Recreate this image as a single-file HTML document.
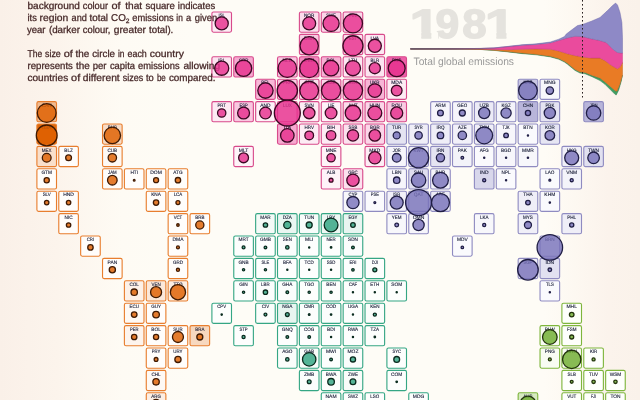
<!DOCTYPE html>
<html lang="en">
<head>
<meta charset="utf-8">
<title>CO2 emissions tile map</title>
<style>
html,body{margin:0;padding:0;}
body{width:640px;height:400px;overflow:hidden;background:#fefcf6;font-family:"Liberation Sans",sans-serif;}
svg{display:block;text-rendering:geometricPrecision;}
.intro{font-size:9.9px;fill:#472929;stroke:#472929;stroke-width:0.28;}
.lab{font-size:4.85px;fill:#1a1f38;stroke:#1a1f38;stroke-width:0.12;text-anchor:middle;}
.tiles rect{stroke-width:1.12;}
.circ circle{stroke-width:1.3;fill-opacity:0.82;}
</style>
</head>
<body>
<svg width="640" height="400" viewBox="0 0 640 400" font-family="Liberation Sans, sans-serif">
<defs>
<linearGradient id="bg" x1="0" y1="0" x2="1" y2="0">
<stop offset="0" stop-color="#faf0e8"/>
<stop offset="0.09" stop-color="#fcf4ec"/>
<stop offset="0.19" stop-color="#fefbf4"/>
<stop offset="0.3" stop-color="#fefcf6"/>
<stop offset="0.85" stop-color="#fefcf6"/>
<stop offset="0.9" stop-color="#fdf8f1"/>
<stop offset="0.95" stop-color="#fbf3ec"/>
<stop offset="1" stop-color="#faf2ea"/>
</linearGradient>
<clipPath id="c1"><path d="M400,0 H520 V32.2 H506.4 V45 H496.4 V32.2 H487 V45 H438.3 V32.2 H431.3 V45 H421.3 V32.2 H400 Z"/></clipPath>
<linearGradient id="lg" gradientUnits="userSpaceOnUse" x1="410" y1="0" x2="500" y2="0">
<stop offset="0" stop-color="#5e585a" stop-opacity="1"/>
<stop offset="0.5" stop-color="#6a5560" stop-opacity="0.9"/>
<stop offset="1" stop-color="#8a5070" stop-opacity="0"/>
</linearGradient>
</defs>
<rect width="640" height="400" fill="url(#bg)"/>
<g>
<text y="38.2" font-size="41.0" font-weight="bold" fill="#e5e3de" stroke="#e5e3de" stroke-width="1.4" stroke-linejoin="round" clip-path="url(#c1)"><tspan x="409.80" textLength="29.86" lengthAdjust="spacingAndGlyphs">1</tspan><tspan x="435.51" textLength="23.71" lengthAdjust="spacingAndGlyphs">9</tspan><tspan x="462.31" textLength="24.39" lengthAdjust="spacingAndGlyphs">8</tspan><tspan x="484.90" textLength="29.86" lengthAdjust="spacingAndGlyphs">1</tspan></text>
<text x="413.5" y="64.7" font-size="10.8" fill="#999999" textLength="100.5" lengthAdjust="spacingAndGlyphs">Total global emissions</text>
<g class="stream">
<path d="M410.5,49 L440,49 L460,49.05 L480,49.35 L494,50.2 L508,51.6 L522,53.07 L536,54.25 L550.3,56.2 L558.8,58.5 L564.4,61.25 L567.5,63.35 L575,69.4 L580,71.9 L585,72.5 L592.5,75.6 L600,78.1 L605,81.9 L610,86.25 L615,90.6 L616.9,91.25 L620,83.75 L622.5,75 L622.5,75 L621.25,81.25 L618.75,90 L616.25,95 L615,94.35 L610,89.35 L605,84.35 L600,80.6 L592.5,76.9 L585,73.8 L580,73.1 L575,70.4 L567.5,64.3 L564.4,62.12 L558.8,59.3 L550.3,56.9 L536,54.84 L522,53.63 L508,51.9 L494,50.4 L480,49.45 L460,49.1 L440,49 L410.5,49Z" fill="#3f9e63" stroke="#2f7d4c" stroke-width="0.45" stroke-linejoin="round"/>
<path d="M410.5,48.9 L440,48.9 L460,48.9 L480,49 L494,49.4 L508,49.7 L522,49.2 L536,48.9 L550.3,49.2 L558.8,51 L567.5,53.75 L575,55.6 L582.5,56.9 L591.25,58.1 L600,58.1 L605,60.6 L610,64.4 L615,67.5 L617.5,68.75 L620,66.9 L622.5,62.5 L622.5,75 L620,83.75 L616.9,91.25 L615,90.6 L610,86.25 L605,81.9 L600,78.1 L592.5,75.6 L585,72.5 L580,71.9 L575,69.4 L567.5,63.35 L564.4,61.25 L558.8,58.5 L550.3,56.2 L536,54.25 L522,53.07 L508,51.6 L494,50.2 L480,49.35 L460,49.05 L440,49 L410.5,49Z" fill="#e97b25" stroke="#bf6018" stroke-width="0.45" stroke-linejoin="round"/>
<path d="M410.5,48.8 L440,48.8 L460,48.78 L480,48.55 L494,48 L508,46.6 L522,45.23 L536,44.45 L550,42.9 L560,40.1 L567.5,37.85 L575,36.25 L582.5,36.6 L591.25,38.75 L600,40.6 L606.25,42.5 L611.25,47.5 L613.75,50 L617.5,52.5 L622.5,53.1 L622.5,62.5 L620,66.9 L617.5,68.75 L615,67.5 L610,64.4 L605,60.6 L600,58.1 L591.25,58.1 L582.5,56.9 L575,55.6 L567.5,53.75 L558.8,51 L550.3,49.2 L536,48.9 L522,49.2 L508,49.7 L494,49.4 L480,49 L460,48.9 L440,48.9 L410.5,48.9Z" fill="#ea4b9d" stroke="#c23782" stroke-width="0.45" stroke-linejoin="round"/>
<path d="M410.5,48.8 L440,48.8 L460,48.75 L480,48.5 L494,47.9 L508,46.4 L522,44.77 L536,43.86 L550.3,42 L558.8,39.2 L564.4,36.58 L566.25,34.05 L572.5,29.3 L577.5,25.6 L582.5,24.4 L591.25,21.25 L600,17.5 L607.5,10.6 L612.5,5.6 L615.6,3.1 L617.5,5 L620,12.5 L621.9,22.5 L622.5,37.5 L622.5,53.1 L617.5,52.5 L613.75,50 L611.25,47.5 L606.25,42.5 L600,40.6 L591.25,38.75 L582.5,36.6 L575,36.25 L567.5,37.85 L560,40.1 L550,42.9 L536,44.45 L522,45.23 L508,46.6 L494,48 L480,48.55 L460,48.78 L440,48.8 L410.5,48.8Z" fill="#8e89c6" stroke="#6c67a8" stroke-width="0.45" stroke-linejoin="round"/>
</g>
<path d="M410.3,48.9 L460,48.8 L500,48.2" stroke="url(#lg)" stroke-width="1.2" fill="none"/>
<line x1="582.5" y1="0" x2="582.5" y2="97.5" stroke="#2a2020" stroke-width="1" stroke-dasharray="1.6 2.4"/>
<g class="tiles">
<rect x="36.9" y="101.6" width="19.6" height="20.2" rx="1.6" fill="#f1ba8f" stroke="#e87e2e"/>
<rect x="36.9" y="124" width="19.6" height="20.2" rx="1.6" fill="#e0690c" stroke="#e87e2e"/>
<rect x="36.9" y="146.4" width="19.6" height="20.2" rx="1.6" fill="#f9dfcb" stroke="#e87e2e"/>
<rect x="58.78" y="146.4" width="19.6" height="20.2" rx="1.6" fill="#fffdfb" stroke="#e87e2e"/>
<rect x="102.53" y="124" width="19.6" height="20.2" rx="1.6" fill="#f8dcc6" stroke="#e87e2e"/>
<rect x="102.53" y="146.4" width="19.6" height="20.2" rx="1.6" fill="#fef9f4" stroke="#e87e2e"/>
<rect x="36.9" y="168.8" width="19.6" height="20.2" rx="1.6" fill="#fffdfb" stroke="#e87e2e"/>
<rect x="102.53" y="168.8" width="19.6" height="20.2" rx="1.6" fill="#fffdfb" stroke="#e87e2e"/>
<rect x="124.4" y="168.8" width="19.6" height="20.2" rx="1.6" fill="#fffdfb" stroke="#e87e2e"/>
<rect x="146.27" y="168.8" width="19.6" height="20.2" rx="1.6" fill="#fffdfb" stroke="#e87e2e"/>
<rect x="168.15" y="168.8" width="19.6" height="20.2" rx="1.6" fill="#fffdfb" stroke="#e87e2e"/>
<rect x="36.9" y="191.2" width="19.6" height="20.2" rx="1.6" fill="#fffdfb" stroke="#e87e2e"/>
<rect x="58.78" y="191.2" width="19.6" height="20.2" rx="1.6" fill="#fffdfb" stroke="#e87e2e"/>
<rect x="146.27" y="191.2" width="19.6" height="20.2" rx="1.6" fill="#fffdfb" stroke="#e87e2e"/>
<rect x="168.15" y="191.2" width="19.6" height="20.2" rx="1.6" fill="#fffdfb" stroke="#e87e2e"/>
<rect x="58.78" y="213.6" width="19.6" height="20.2" rx="1.6" fill="#fffdfb" stroke="#e87e2e"/>
<rect x="168.15" y="213.6" width="19.6" height="20.2" rx="1.6" fill="#fffdfb" stroke="#e87e2e"/>
<rect x="190.02" y="213.6" width="19.6" height="20.2" rx="1.6" fill="#fffdfb" stroke="#e87e2e"/>
<rect x="80.65" y="236" width="19.6" height="20.2" rx="1.6" fill="#fffdfb" stroke="#e87e2e"/>
<rect x="168.15" y="236" width="19.6" height="20.2" rx="1.6" fill="#fffdfb" stroke="#e87e2e"/>
<rect x="102.53" y="258.4" width="19.6" height="20.2" rx="1.6" fill="#fffdfb" stroke="#e87e2e"/>
<rect x="168.15" y="258.4" width="19.6" height="20.2" rx="1.6" fill="#fffdfb" stroke="#e87e2e"/>
<rect x="124.4" y="280.8" width="19.6" height="20.2" rx="1.6" fill="#fdf1e8" stroke="#e87e2e"/>
<rect x="146.27" y="280.8" width="19.6" height="20.2" rx="1.6" fill="#fbe8da" stroke="#e87e2e"/>
<rect x="168.15" y="280.8" width="19.6" height="20.2" rx="1.6" fill="#fceee3" stroke="#e87e2e"/>
<rect x="124.4" y="303.2" width="19.6" height="20.2" rx="1.6" fill="#fef9f4" stroke="#e87e2e"/>
<rect x="146.27" y="303.2" width="19.6" height="20.2" rx="1.6" fill="#fffdfb" stroke="#e87e2e"/>
<rect x="124.4" y="325.6" width="19.6" height="20.2" rx="1.6" fill="#fdf4ed" stroke="#e87e2e"/>
<rect x="146.27" y="325.6" width="19.6" height="20.2" rx="1.6" fill="#fffdfb" stroke="#e87e2e"/>
<rect x="168.15" y="325.6" width="19.6" height="20.2" rx="1.6" fill="#fffdfb" stroke="#e87e2e"/>
<rect x="190.02" y="325.6" width="19.6" height="20.2" rx="1.6" fill="#f7d8bf" stroke="#e87e2e"/>
<rect x="146.27" y="348" width="19.6" height="20.2" rx="1.6" fill="#fffdfb" stroke="#e87e2e"/>
<rect x="168.15" y="348" width="19.6" height="20.2" rx="1.6" fill="#fffdfb" stroke="#e87e2e"/>
<rect x="146.27" y="370.4" width="19.6" height="20.2" rx="1.6" fill="#fef9f4" stroke="#e87e2e"/>
<rect x="146.27" y="392.8" width="19.6" height="20.2" rx="1.6" fill="#fceee3" stroke="#e87e2e"/>
<rect x="211.9" y="12" width="19.6" height="20.2" rx="1.6" fill="#fdecf4" stroke="#d84a8b"/>
<rect x="299.4" y="12" width="19.6" height="20.2" rx="1.6" fill="#fcddec" stroke="#d84a8b"/>
<rect x="321.27" y="12" width="19.6" height="20.2" rx="1.6" fill="#fbd5e8" stroke="#d84a8b"/>
<rect x="343.15" y="12" width="19.6" height="20.2" rx="1.6" fill="#fbd8ea" stroke="#d84a8b"/>
<rect x="299.4" y="34.4" width="19.6" height="20.2" rx="1.6" fill="#facbe2" stroke="#d84a8b"/>
<rect x="343.15" y="34.4" width="19.6" height="20.2" rx="1.6" fill="#fce1ee" stroke="#d84a8b"/>
<rect x="365.02" y="34.4" width="19.6" height="20.2" rx="1.6" fill="#fde7f2" stroke="#d84a8b"/>
<rect x="211.9" y="56.8" width="19.6" height="20.2" rx="1.6" fill="#fce4f0" stroke="#d84a8b"/>
<rect x="233.77" y="56.8" width="19.6" height="20.2" rx="1.6" fill="#f6a9d0" stroke="#d84a8b"/>
<rect x="277.52" y="56.8" width="19.6" height="20.2" rx="1.6" fill="#f9c7e0" stroke="#d84a8b"/>
<rect x="299.4" y="56.8" width="19.6" height="20.2" rx="1.6" fill="#f38bc0" stroke="#d84a8b"/>
<rect x="321.27" y="56.8" width="19.6" height="20.2" rx="1.6" fill="#f7b0d4" stroke="#d84a8b"/>
<rect x="343.15" y="56.8" width="19.6" height="20.2" rx="1.6" fill="#fde7f2" stroke="#d84a8b"/>
<rect x="365.02" y="56.8" width="19.6" height="20.2" rx="1.6" fill="#fce4f0" stroke="#d84a8b"/>
<rect x="386.9" y="56.8" width="19.6" height="20.2" rx="1.6" fill="#ee5fa8" stroke="#d84a8b"/>
<rect x="255.65" y="79.2" width="19.6" height="20.2" rx="1.6" fill="#f8b8d8" stroke="#d84a8b"/>
<rect x="277.52" y="79.2" width="19.6" height="20.2" rx="1.6" fill="#facee4" stroke="#d84a8b"/>
<rect x="299.4" y="79.2" width="19.6" height="20.2" rx="1.6" fill="#fce1ee" stroke="#d84a8b"/>
<rect x="321.27" y="79.2" width="19.6" height="20.2" rx="1.6" fill="#fbd5e8" stroke="#d84a8b"/>
<rect x="343.15" y="79.2" width="19.6" height="20.2" rx="1.6" fill="#fcddec" stroke="#d84a8b"/>
<rect x="365.02" y="79.2" width="19.6" height="20.2" rx="1.6" fill="#f7b5d6" stroke="#d84a8b"/>
<rect x="386.9" y="79.2" width="19.6" height="20.2" rx="1.6" fill="#fdecf4" stroke="#d84a8b"/>
<rect x="211.9" y="101.6" width="19.6" height="20.2" rx="1.6" fill="#fdeaf3" stroke="#d84a8b"/>
<rect x="233.77" y="101.6" width="19.6" height="20.2" rx="1.6" fill="#f9c7e0" stroke="#d84a8b"/>
<rect x="255.65" y="101.6" width="19.6" height="20.2" rx="1.6" fill="#fef3f8" stroke="#d84a8b"/>
<rect x="277.52" y="101.6" width="19.6" height="20.2" rx="1.6" fill="#fdecf4" stroke="#d84a8b"/>
<rect x="299.4" y="101.6" width="19.6" height="20.2" rx="1.6" fill="#fdecf4" stroke="#d84a8b"/>
<rect x="321.27" y="101.6" width="19.6" height="20.2" rx="1.6" fill="#fef3f8" stroke="#d84a8b"/>
<rect x="343.15" y="101.6" width="19.6" height="20.2" rx="1.6" fill="#fcddec" stroke="#d84a8b"/>
<rect x="365.02" y="101.6" width="19.6" height="20.2" rx="1.6" fill="#fbd5e8" stroke="#d84a8b"/>
<rect x="386.9" y="101.6" width="19.6" height="20.2" rx="1.6" fill="#facbe2" stroke="#d84a8b"/>
<rect x="277.52" y="124" width="19.6" height="20.2" rx="1.6" fill="#f6a9d0" stroke="#d84a8b"/>
<rect x="299.4" y="124" width="19.6" height="20.2" rx="1.6" fill="#fdecf4" stroke="#d84a8b"/>
<rect x="321.27" y="124" width="19.6" height="20.2" rx="1.6" fill="#fdecf4" stroke="#d84a8b"/>
<rect x="343.15" y="124" width="19.6" height="20.2" rx="1.6" fill="#fce1ee" stroke="#d84a8b"/>
<rect x="365.02" y="124" width="19.6" height="20.2" rx="1.6" fill="#fbd5e8" stroke="#d84a8b"/>
<rect x="321.27" y="146.4" width="19.6" height="20.2" rx="1.6" fill="#fef3f8" stroke="#d84a8b"/>
<rect x="365.02" y="146.4" width="19.6" height="20.2" rx="1.6" fill="#fdecf4" stroke="#d84a8b"/>
<rect x="233.77" y="146.4" width="19.6" height="20.2" rx="1.6" fill="#fef3f8" stroke="#d84a8b"/>
<rect x="321.27" y="168.8" width="19.6" height="20.2" rx="1.6" fill="#fef3f8" stroke="#d84a8b"/>
<rect x="343.15" y="168.8" width="19.6" height="20.2" rx="1.6" fill="#fce1ee" stroke="#d84a8b"/>
<rect x="430.65" y="101.6" width="19.6" height="20.2" rx="1.6" fill="#f6f5fb" stroke="#8f8bc1"/>
<rect x="452.52" y="101.6" width="19.6" height="20.2" rx="1.6" fill="#f6f5fb" stroke="#8f8bc1"/>
<rect x="474.4" y="101.6" width="19.6" height="20.2" rx="1.6" fill="#ecebf6" stroke="#8f8bc1"/>
<rect x="496.27" y="101.6" width="19.6" height="20.2" rx="1.6" fill="#f4f4fa" stroke="#8f8bc1"/>
<rect x="518.15" y="101.6" width="19.6" height="20.2" rx="1.6" fill="#b8b5da" stroke="#8f8bc1"/>
<rect x="540.03" y="101.6" width="19.6" height="20.2" rx="1.6" fill="#e5e4f2" stroke="#8f8bc1"/>
<rect x="583.78" y="101.6" width="19.6" height="20.2" rx="1.6" fill="#b8b5da" stroke="#8f8bc1"/>
<rect x="518.15" y="79.2" width="19.6" height="20.2" rx="1.6" fill="#c9c7e3" stroke="#8f8bc1"/>
<rect x="540.03" y="79.2" width="19.6" height="20.2" rx="1.6" fill="#f7f7fb" stroke="#8f8bc1"/>
<rect x="386.9" y="124" width="19.6" height="20.2" rx="1.6" fill="#e4e3f1" stroke="#8f8bc1"/>
<rect x="408.77" y="124" width="19.6" height="20.2" rx="1.6" fill="#efeef7" stroke="#8f8bc1"/>
<rect x="430.65" y="124" width="19.6" height="20.2" rx="1.6" fill="#efeef7" stroke="#8f8bc1"/>
<rect x="452.52" y="124" width="19.6" height="20.2" rx="1.6" fill="#f2f1f9" stroke="#8f8bc1"/>
<rect x="474.4" y="124" width="19.6" height="20.2" rx="1.6" fill="#efeef7" stroke="#8f8bc1"/>
<rect x="496.27" y="124" width="19.6" height="20.2" rx="1.6" fill="#f7f6fb" stroke="#8f8bc1"/>
<rect x="518.15" y="124" width="19.6" height="20.2" rx="1.6" fill="#fafafd" stroke="#8f8bc1"/>
<rect x="540.03" y="124" width="19.6" height="20.2" rx="1.6" fill="#e6e6f3" stroke="#8f8bc1"/>
<rect x="386.9" y="146.4" width="19.6" height="20.2" rx="1.6" fill="#f6f5fb" stroke="#8f8bc1"/>
<rect x="408.77" y="146.4" width="19.6" height="20.2" rx="1.6" fill="#efeef7" stroke="#8f8bc1"/>
<rect x="430.65" y="146.4" width="19.6" height="20.2" rx="1.6" fill="#e5e4f2" stroke="#8f8bc1"/>
<rect x="452.52" y="146.4" width="19.6" height="20.2" rx="1.6" fill="#f3f3f9" stroke="#8f8bc1"/>
<rect x="474.4" y="146.4" width="19.6" height="20.2" rx="1.6" fill="#fafafd" stroke="#8f8bc1"/>
<rect x="496.27" y="146.4" width="19.6" height="20.2" rx="1.6" fill="#f7f6fb" stroke="#8f8bc1"/>
<rect x="518.15" y="146.4" width="19.6" height="20.2" rx="1.6" fill="#f7f7fb" stroke="#8f8bc1"/>
<rect x="561.9" y="146.4" width="19.6" height="20.2" rx="1.6" fill="#f0eff8" stroke="#8f8bc1"/>
<rect x="583.78" y="146.4" width="19.6" height="20.2" rx="1.6" fill="#e1e0f0" stroke="#8f8bc1"/>
<rect x="386.9" y="168.8" width="19.6" height="20.2" rx="1.6" fill="#f6f5fb" stroke="#8f8bc1"/>
<rect x="408.77" y="168.8" width="19.6" height="20.2" rx="1.6" fill="#dfdeef" stroke="#8f8bc1"/>
<rect x="430.65" y="168.8" width="19.6" height="20.2" rx="1.6" fill="#f4f4fa" stroke="#8f8bc1"/>
<rect x="474.4" y="168.8" width="19.6" height="20.2" rx="1.6" fill="#d8d7eb" stroke="#8f8bc1"/>
<rect x="496.27" y="168.8" width="19.6" height="20.2" rx="1.6" fill="#fafafd" stroke="#8f8bc1"/>
<rect x="540.03" y="168.8" width="19.6" height="20.2" rx="1.6" fill="#fafafd" stroke="#8f8bc1"/>
<rect x="561.9" y="168.8" width="19.6" height="20.2" rx="1.6" fill="#f4f4fa" stroke="#8f8bc1"/>
<rect x="343.15" y="191.2" width="19.6" height="20.2" rx="1.6" fill="#f7f7fb" stroke="#8f8bc1"/>
<rect x="365.02" y="191.2" width="19.6" height="20.2" rx="1.6" fill="#fafafd" stroke="#8f8bc1"/>
<rect x="386.9" y="191.2" width="19.6" height="20.2" rx="1.6" fill="#f2f1f9" stroke="#8f8bc1"/>
<rect x="408.77" y="191.2" width="19.6" height="20.2" rx="1.6" fill="#f3f3f9" stroke="#8f8bc1"/>
<rect x="430.65" y="191.2" width="19.6" height="20.2" rx="1.6" fill="#eeedf6" stroke="#8f8bc1"/>
<rect x="518.15" y="191.2" width="19.6" height="20.2" rx="1.6" fill="#efeef7" stroke="#8f8bc1"/>
<rect x="540.03" y="191.2" width="19.6" height="20.2" rx="1.6" fill="#fafafd" stroke="#8f8bc1"/>
<rect x="386.9" y="213.6" width="19.6" height="20.2" rx="1.6" fill="#f7f7fb" stroke="#8f8bc1"/>
<rect x="408.77" y="213.6" width="19.6" height="20.2" rx="1.6" fill="#f6f5fb" stroke="#8f8bc1"/>
<rect x="474.4" y="213.6" width="19.6" height="20.2" rx="1.6" fill="#f7f7fb" stroke="#8f8bc1"/>
<rect x="518.15" y="213.6" width="19.6" height="20.2" rx="1.6" fill="#f0eff8" stroke="#8f8bc1"/>
<rect x="561.9" y="213.6" width="19.6" height="20.2" rx="1.6" fill="#efeef7" stroke="#8f8bc1"/>
<rect x="452.52" y="236" width="19.6" height="20.2" rx="1.6" fill="#fafafd" stroke="#8f8bc1"/>
<rect x="540.03" y="236" width="19.6" height="20.2" rx="1.6" fill="#f7f6fb" stroke="#8f8bc1"/>
<rect x="518.15" y="258.4" width="19.6" height="20.2" rx="1.6" fill="#f0eff8" stroke="#8f8bc1"/>
<rect x="540.03" y="258.4" width="19.6" height="20.2" rx="1.6" fill="#e2e1f1" stroke="#8f8bc1"/>
<rect x="540.03" y="280.8" width="19.6" height="20.2" rx="1.6" fill="#fafafd" stroke="#8f8bc1"/>
<rect x="255.65" y="213.6" width="19.6" height="20.2" rx="1.6" fill="#f4faf7" stroke="#35a684"/>
<rect x="277.52" y="213.6" width="19.6" height="20.2" rx="1.6" fill="#eaf6f2" stroke="#35a684"/>
<rect x="299.4" y="213.6" width="19.6" height="20.2" rx="1.6" fill="#f7fcfa" stroke="#35a684"/>
<rect x="321.27" y="213.6" width="19.6" height="20.2" rx="1.6" fill="#eef8f4" stroke="#35a684"/>
<rect x="343.15" y="213.6" width="19.6" height="20.2" rx="1.6" fill="#e9f5f1" stroke="#35a684"/>
<rect x="233.77" y="236" width="19.6" height="20.2" rx="1.6" fill="#fdfefd" stroke="#35a684"/>
<rect x="255.65" y="236" width="19.6" height="20.2" rx="1.6" fill="#fdfefd" stroke="#35a684"/>
<rect x="277.52" y="236" width="19.6" height="20.2" rx="1.6" fill="#fbfdfc" stroke="#35a684"/>
<rect x="299.4" y="236" width="19.6" height="20.2" rx="1.6" fill="#fdfefd" stroke="#35a684"/>
<rect x="321.27" y="236" width="19.6" height="20.2" rx="1.6" fill="#fdfefd" stroke="#35a684"/>
<rect x="343.15" y="236" width="19.6" height="20.2" rx="1.6" fill="#fbfdfc" stroke="#35a684"/>
<rect x="233.77" y="258.4" width="19.6" height="20.2" rx="1.6" fill="#fdfefd" stroke="#35a684"/>
<rect x="255.65" y="258.4" width="19.6" height="20.2" rx="1.6" fill="#fdfefd" stroke="#35a684"/>
<rect x="277.52" y="258.4" width="19.6" height="20.2" rx="1.6" fill="#fdfefd" stroke="#35a684"/>
<rect x="299.4" y="258.4" width="19.6" height="20.2" rx="1.6" fill="#fdfefd" stroke="#35a684"/>
<rect x="321.27" y="258.4" width="19.6" height="20.2" rx="1.6" fill="#fdfefd" stroke="#35a684"/>
<rect x="343.15" y="258.4" width="19.6" height="20.2" rx="1.6" fill="#fdfefd" stroke="#35a684"/>
<rect x="365.02" y="258.4" width="19.6" height="20.2" rx="1.6" fill="#fdfefd" stroke="#35a684"/>
<rect x="233.77" y="280.8" width="19.6" height="20.2" rx="1.6" fill="#fdfefd" stroke="#35a684"/>
<rect x="255.65" y="280.8" width="19.6" height="20.2" rx="1.6" fill="#fbfdfc" stroke="#35a684"/>
<rect x="277.52" y="280.8" width="19.6" height="20.2" rx="1.6" fill="#fbfdfc" stroke="#35a684"/>
<rect x="299.4" y="280.8" width="19.6" height="20.2" rx="1.6" fill="#fdfefd" stroke="#35a684"/>
<rect x="321.27" y="280.8" width="19.6" height="20.2" rx="1.6" fill="#fdfefd" stroke="#35a684"/>
<rect x="343.15" y="280.8" width="19.6" height="20.2" rx="1.6" fill="#fdfefd" stroke="#35a684"/>
<rect x="365.02" y="280.8" width="19.6" height="20.2" rx="1.6" fill="#fcfefc" stroke="#35a684"/>
<rect x="386.9" y="280.8" width="19.6" height="20.2" rx="1.6" fill="#fdfefd" stroke="#35a684"/>
<rect x="211.9" y="303.2" width="19.6" height="20.2" rx="1.6" fill="#fdfefd" stroke="#35a684"/>
<rect x="255.65" y="303.2" width="19.6" height="20.2" rx="1.6" fill="#fafdfb" stroke="#35a684"/>
<rect x="277.52" y="303.2" width="19.6" height="20.2" rx="1.6" fill="#e7f5f0" stroke="#35a684"/>
<rect x="299.4" y="303.2" width="19.6" height="20.2" rx="1.6" fill="#fbfdfc" stroke="#35a684"/>
<rect x="321.27" y="303.2" width="19.6" height="20.2" rx="1.6" fill="#fbfdfc" stroke="#35a684"/>
<rect x="343.15" y="303.2" width="19.6" height="20.2" rx="1.6" fill="#fdfefd" stroke="#35a684"/>
<rect x="365.02" y="303.2" width="19.6" height="20.2" rx="1.6" fill="#fafdfb" stroke="#35a684"/>
<rect x="233.77" y="325.6" width="19.6" height="20.2" rx="1.6" fill="#fdfefd" stroke="#35a684"/>
<rect x="277.52" y="325.6" width="19.6" height="20.2" rx="1.6" fill="#fdfefd" stroke="#35a684"/>
<rect x="299.4" y="325.6" width="19.6" height="20.2" rx="1.6" fill="#fdfefd" stroke="#35a684"/>
<rect x="321.27" y="325.6" width="19.6" height="20.2" rx="1.6" fill="#fdfefd" stroke="#35a684"/>
<rect x="343.15" y="325.6" width="19.6" height="20.2" rx="1.6" fill="#fdfefd" stroke="#35a684"/>
<rect x="365.02" y="325.6" width="19.6" height="20.2" rx="1.6" fill="#fcfefc" stroke="#35a684"/>
<rect x="277.52" y="348" width="19.6" height="20.2" rx="1.6" fill="#fafdfb" stroke="#35a684"/>
<rect x="299.4" y="348" width="19.6" height="20.2" rx="1.6" fill="#f9fcfa" stroke="#35a684"/>
<rect x="321.27" y="348" width="19.6" height="20.2" rx="1.6" fill="#fdfefd" stroke="#35a684"/>
<rect x="343.15" y="348" width="19.6" height="20.2" rx="1.6" fill="#fbfdfc" stroke="#35a684"/>
<rect x="386.9" y="348" width="19.6" height="20.2" rx="1.6" fill="#fdfefd" stroke="#35a684"/>
<rect x="299.4" y="370.4" width="19.6" height="20.2" rx="1.6" fill="#fbfdfc" stroke="#35a684"/>
<rect x="321.27" y="370.4" width="19.6" height="20.2" rx="1.6" fill="#fdfefd" stroke="#35a684"/>
<rect x="343.15" y="370.4" width="19.6" height="20.2" rx="1.6" fill="#f9fcfa" stroke="#35a684"/>
<rect x="386.9" y="370.4" width="19.6" height="20.2" rx="1.6" fill="#fdfefd" stroke="#35a684"/>
<rect x="321.27" y="392.8" width="19.6" height="20.2" rx="1.6" fill="#fdfefd" stroke="#35a684"/>
<rect x="343.15" y="392.8" width="19.6" height="20.2" rx="1.6" fill="#fdfefd" stroke="#35a684"/>
<rect x="365.02" y="392.8" width="19.6" height="20.2" rx="1.6" fill="#fdfefd" stroke="#35a684"/>
<rect x="408.77" y="392.8" width="19.6" height="20.2" rx="1.6" fill="#fdfefd" stroke="#35a684"/>
<rect x="561.9" y="303.2" width="19.6" height="20.2" rx="1.6" fill="#fefffc" stroke="#7eb53c"/>
<rect x="540.03" y="325.6" width="19.6" height="20.2" rx="1.6" fill="#f8fcf3" stroke="#7eb53c"/>
<rect x="561.9" y="325.6" width="19.6" height="20.2" rx="1.6" fill="#fefffc" stroke="#7eb53c"/>
<rect x="540.03" y="348" width="19.6" height="20.2" rx="1.6" fill="#f8fcf3" stroke="#7eb53c"/>
<rect x="561.9" y="348" width="19.6" height="20.2" rx="1.6" fill="#fbfdf7" stroke="#7eb53c"/>
<rect x="583.78" y="348" width="19.6" height="20.2" rx="1.6" fill="#fefffc" stroke="#7eb53c"/>
<rect x="561.9" y="370.4" width="19.6" height="20.2" rx="1.6" fill="#fefffc" stroke="#7eb53c"/>
<rect x="583.78" y="370.4" width="19.6" height="20.2" rx="1.6" fill="#fefffc" stroke="#7eb53c"/>
<rect x="605.65" y="370.4" width="19.6" height="20.2" rx="1.6" fill="#fefffc" stroke="#7eb53c"/>
<rect x="518.15" y="392.8" width="19.6" height="20.2" rx="1.6" fill="#d6eac0" stroke="#7eb53c"/>
<rect x="561.9" y="392.8" width="19.6" height="20.2" rx="1.6" fill="#fefffc" stroke="#7eb53c"/>
<rect x="583.78" y="392.8" width="19.6" height="20.2" rx="1.6" fill="#fefffc" stroke="#7eb53c"/>
<rect x="605.65" y="392.8" width="19.6" height="20.2" rx="1.6" fill="#fefffc" stroke="#7eb53c"/>
</g>
<g class="intro">
<text y="9.0" xml:space="preserve"><tspan x="27.5" textLength="52.4" lengthAdjust="spacingAndGlyphs">background</tspan><tspan> </tspan><tspan x="82.8" textLength="25.2" lengthAdjust="spacingAndGlyphs">colour</tspan><tspan> </tspan><tspan x="111.4" textLength="9.1" lengthAdjust="spacingAndGlyphs">of</tspan><tspan> </tspan><tspan x="125.2" textLength="16.9" lengthAdjust="spacingAndGlyphs">that</tspan><tspan> </tspan><tspan x="145.5" textLength="29.4" lengthAdjust="spacingAndGlyphs">square</tspan><tspan> </tspan><tspan x="177.8" textLength="37.4" lengthAdjust="spacingAndGlyphs">indicates</tspan></text>
<text y="20.95" xml:space="preserve"><tspan x="27.5" textLength="9.4" lengthAdjust="spacingAndGlyphs">its</tspan><tspan> </tspan><tspan x="39.5" textLength="28.7" lengthAdjust="spacingAndGlyphs">region</tspan><tspan> </tspan><tspan x="71.6" textLength="15.3" lengthAdjust="spacingAndGlyphs">and</tspan><tspan> </tspan><tspan x="89.5" textLength="18.5" lengthAdjust="spacingAndGlyphs">total</tspan><tspan> </tspan><tspan x="111.0" textLength="14.8" lengthAdjust="spacingAndGlyphs">CO</tspan><tspan x="125.7" dy="1.8" font-size="6.3" textLength="3.7" lengthAdjust="spacingAndGlyphs">2</tspan><tspan> </tspan><tspan x="132.2" dy="-1.8" textLength="41.5" lengthAdjust="spacingAndGlyphs">emissions</tspan><tspan> </tspan><tspan x="176.3" textLength="6.5" lengthAdjust="spacingAndGlyphs">in</tspan><tspan> </tspan><tspan x="186.1" textLength="5.2" lengthAdjust="spacingAndGlyphs">a</tspan><tspan> </tspan><tspan x="194.7" textLength="22.4" lengthAdjust="spacingAndGlyphs">given</tspan></text>
<text y="32.9" xml:space="preserve"><tspan x="27.0" textLength="18.5" lengthAdjust="spacingAndGlyphs">year</tspan><tspan> </tspan><tspan x="48.9" textLength="31.0" lengthAdjust="spacingAndGlyphs">(darker</tspan><tspan> </tspan><tspan x="82.8" textLength="27.6" lengthAdjust="spacingAndGlyphs">colour,</tspan><tspan> </tspan><tspan x="113.8" textLength="32.2" lengthAdjust="spacingAndGlyphs">greater</tspan><tspan> </tspan><tspan x="149.1" textLength="24.2" lengthAdjust="spacingAndGlyphs">total).</tspan></text>
<text y="56.7" xml:space="preserve"><tspan x="27.5" textLength="14.6" lengthAdjust="spacingAndGlyphs">The</tspan><tspan> </tspan><tspan x="45.0" textLength="15.8" lengthAdjust="spacingAndGlyphs">size</tspan><tspan> </tspan><tspan x="63.8" textLength="9.1" lengthAdjust="spacingAndGlyphs">of</tspan><tspan> </tspan><tspan x="75.5" textLength="13.8" lengthAdjust="spacingAndGlyphs">the</tspan><tspan> </tspan><tspan x="92.2" textLength="22.8" lengthAdjust="spacingAndGlyphs">circle</tspan><tspan> </tspan><tspan x="118.0" textLength="6.5" lengthAdjust="spacingAndGlyphs">in</tspan><tspan> </tspan><tspan x="127.5" textLength="19.3" lengthAdjust="spacingAndGlyphs">each</tspan><tspan> </tspan><tspan x="149.7" textLength="34.2" lengthAdjust="spacingAndGlyphs">country</tspan></text>
<text y="68.65" xml:space="preserve"><tspan x="27.5" textLength="45.4" lengthAdjust="spacingAndGlyphs">represents</tspan><tspan> </tspan><tspan x="76.0" textLength="13.8" lengthAdjust="spacingAndGlyphs">the</tspan><tspan> </tspan><tspan x="92.7" textLength="13.8" lengthAdjust="spacingAndGlyphs">per</tspan><tspan> </tspan><tspan x="109.9" textLength="25.1" lengthAdjust="spacingAndGlyphs">capita</tspan><tspan> </tspan><tspan x="138.1" textLength="41.5" lengthAdjust="spacingAndGlyphs">emissions</tspan><tspan> </tspan><tspan x="183.4" textLength="36.8" lengthAdjust="spacingAndGlyphs">allowing</tspan></text>
<text y="80.6" xml:space="preserve"><tspan x="27.5" textLength="40.7" lengthAdjust="spacingAndGlyphs">countries</tspan><tspan> </tspan><tspan x="71.1" textLength="9.1" lengthAdjust="spacingAndGlyphs">of</tspan><tspan> </tspan><tspan x="82.8" textLength="36.9" lengthAdjust="spacingAndGlyphs">different</tspan><tspan> </tspan><tspan x="122.8" textLength="20.5" lengthAdjust="spacingAndGlyphs">sizes</tspan><tspan> </tspan><tspan x="145.9" textLength="7.8" lengthAdjust="spacingAndGlyphs">to</tspan><tspan> </tspan><tspan x="156.9" textLength="8.9" lengthAdjust="spacingAndGlyphs">be</tspan><tspan> </tspan><tspan x="168.9" textLength="46.6" lengthAdjust="spacingAndGlyphs">compared.</tspan></text>
</g>
<g class="lab">
<text x="46.7" y="106.7" textLength="9.79" lengthAdjust="spacingAndGlyphs">CAN</text>
<text x="46.7" y="129.1" textLength="9.26" lengthAdjust="spacingAndGlyphs">USA</text>
<text x="46.7" y="151.5" textLength="9.88" lengthAdjust="spacingAndGlyphs">MEX</text>
<text x="68.58" y="151.5" textLength="8.43" lengthAdjust="spacingAndGlyphs">BLZ</text>
<text x="112.33" y="129.1" textLength="9.38" lengthAdjust="spacingAndGlyphs">BHS</text>
<text x="112.33" y="151.5" textLength="9.73" lengthAdjust="spacingAndGlyphs">CUB</text>
<text x="46.7" y="173.9" textLength="10.6" lengthAdjust="spacingAndGlyphs">GTM</text>
<text x="112.33" y="173.9" textLength="8.75" lengthAdjust="spacingAndGlyphs">JAM</text>
<text x="134.2" y="173.9" textLength="7.61" lengthAdjust="spacingAndGlyphs">HTI</text>
<text x="156.07" y="173.9" textLength="11.7" lengthAdjust="spacingAndGlyphs">DOM</text>
<text x="177.95" y="173.9" textLength="9.28" lengthAdjust="spacingAndGlyphs">ATG</text>
<text x="46.7" y="196.3" textLength="8.07" lengthAdjust="spacingAndGlyphs">SLV</text>
<text x="68.58" y="196.3" textLength="10.77" lengthAdjust="spacingAndGlyphs">HND</text>
<text x="156.07" y="196.3" textLength="9.7" lengthAdjust="spacingAndGlyphs">KNA</text>
<text x="177.95" y="196.3" textLength="8.65" lengthAdjust="spacingAndGlyphs">LCA</text>
<text x="68.58" y="218.7" textLength="8.07" lengthAdjust="spacingAndGlyphs">NIC</text>
<text x="177.95" y="218.7" textLength="8.63" lengthAdjust="spacingAndGlyphs">VCT</text>
<text x="199.82" y="218.7" textLength="9.28" lengthAdjust="spacingAndGlyphs">BRB</text>
<text x="90.45" y="241.1" textLength="7.41" lengthAdjust="spacingAndGlyphs">CRI</text>
<text x="177.95" y="241.1" textLength="10.99" lengthAdjust="spacingAndGlyphs">DMA</text>
<text x="112.33" y="263.5" textLength="9.65" lengthAdjust="spacingAndGlyphs">PAN</text>
<text x="177.95" y="263.5" textLength="10.06" lengthAdjust="spacingAndGlyphs">GRD</text>
<text x="134.2" y="285.9" textLength="9.35" lengthAdjust="spacingAndGlyphs">COL</text>
<text x="156.07" y="285.9" textLength="9.24" lengthAdjust="spacingAndGlyphs">VEN</text>
<text x="177.95" y="285.9" textLength="9.14" lengthAdjust="spacingAndGlyphs">TTO</text>
<text x="134.2" y="308.3" textLength="9.29" lengthAdjust="spacingAndGlyphs">ECU</text>
<text x="156.07" y="308.3" textLength="9.78" lengthAdjust="spacingAndGlyphs">GUY</text>
<text x="134.2" y="330.7" textLength="8.62" lengthAdjust="spacingAndGlyphs">PER</text>
<text x="156.07" y="330.7" textLength="9.44" lengthAdjust="spacingAndGlyphs">BOL</text>
<text x="177.95" y="330.7" textLength="9.19" lengthAdjust="spacingAndGlyphs">SUR</text>
<text x="199.82" y="330.7" textLength="9.21" lengthAdjust="spacingAndGlyphs">BRA</text>
<text x="156.07" y="353.1" textLength="8.63" lengthAdjust="spacingAndGlyphs">PRY</text>
<text x="177.95" y="353.1" textLength="9.25" lengthAdjust="spacingAndGlyphs">URY</text>
<text x="156.07" y="375.5" textLength="9.16" lengthAdjust="spacingAndGlyphs">CHL</text>
<text x="156.07" y="397.9" textLength="9.6" lengthAdjust="spacingAndGlyphs">ARG</text>
<text x="221.7" y="17.1" textLength="6.53" lengthAdjust="spacingAndGlyphs">ISL</text>
<text x="309.2" y="17.1" textLength="10.43" lengthAdjust="spacingAndGlyphs">NOR</text>
<text x="331.07" y="17.1" textLength="9.85" lengthAdjust="spacingAndGlyphs">SWE</text>
<text x="352.95" y="17.1" textLength="7.51" lengthAdjust="spacingAndGlyphs">FIN</text>
<text x="309.2" y="39.5" textLength="10.17" lengthAdjust="spacingAndGlyphs">DNK</text>
<text x="352.95" y="39.5" textLength="8.04" lengthAdjust="spacingAndGlyphs">EST</text>
<text x="374.82" y="39.5" textLength="8.47" lengthAdjust="spacingAndGlyphs">LVA</text>
<text x="221.7" y="61.9" textLength="6.87" lengthAdjust="spacingAndGlyphs">IRL</text>
<text x="243.57" y="61.9" textLength="9.67" lengthAdjust="spacingAndGlyphs">GBR</text>
<text x="287.32" y="61.9" textLength="9.71" lengthAdjust="spacingAndGlyphs">NLD</text>
<text x="309.2" y="61.9" textLength="9.76" lengthAdjust="spacingAndGlyphs">DEU</text>
<text x="331.07" y="61.9" textLength="9.21" lengthAdjust="spacingAndGlyphs">POL</text>
<text x="352.95" y="61.9" textLength="8.73" lengthAdjust="spacingAndGlyphs">LTU</text>
<text x="374.82" y="61.9" textLength="8.66" lengthAdjust="spacingAndGlyphs">BLR</text>
<text x="396.7" y="61.9" textLength="9.19" lengthAdjust="spacingAndGlyphs">RUS</text>
<text x="265.45" y="84.3" textLength="8.36" lengthAdjust="spacingAndGlyphs">BEL</text>
<text x="287.32" y="84.3" textLength="8.57" lengthAdjust="spacingAndGlyphs">FRA</text>
<text x="309.2" y="84.3" textLength="9.34" lengthAdjust="spacingAndGlyphs">CHE</text>
<text x="331.07" y="84.3" textLength="8.53" lengthAdjust="spacingAndGlyphs">CZE</text>
<text x="352.95" y="84.3" textLength="8.53" lengthAdjust="spacingAndGlyphs">SVK</text>
<text x="374.82" y="84.3" textLength="9.51" lengthAdjust="spacingAndGlyphs">UKR</text>
<text x="396.7" y="84.3" textLength="10.99" lengthAdjust="spacingAndGlyphs">MDA</text>
<text x="221.7" y="106.7" textLength="8.6" lengthAdjust="spacingAndGlyphs">PRT</text>
<text x="243.57" y="106.7" textLength="8.28" lengthAdjust="spacingAndGlyphs">ESP</text>
<text x="265.45" y="106.7" textLength="10.26" lengthAdjust="spacingAndGlyphs">AND</text>
<text x="287.32" y="106.7" textLength="8.85" lengthAdjust="spacingAndGlyphs">LUX</text>
<text x="309.2" y="106.7" textLength="9.21" lengthAdjust="spacingAndGlyphs">SVN</text>
<text x="331.07" y="106.7" textLength="6.57" lengthAdjust="spacingAndGlyphs">LIE</text>
<text x="352.95" y="106.7" textLength="9.28" lengthAdjust="spacingAndGlyphs">AUT</text>
<text x="374.82" y="106.7" textLength="10.77" lengthAdjust="spacingAndGlyphs">HUN</text>
<text x="396.7" y="106.7" textLength="10.31" lengthAdjust="spacingAndGlyphs">ROU</text>
<text x="287.32" y="129.1" textLength="7.1" lengthAdjust="spacingAndGlyphs">ITA</text>
<text x="309.2" y="129.1" textLength="9.46" lengthAdjust="spacingAndGlyphs">HRV</text>
<text x="331.07" y="129.1" textLength="8.07" lengthAdjust="spacingAndGlyphs">BIH</text>
<text x="352.95" y="129.1" textLength="8.8" lengthAdjust="spacingAndGlyphs">SRB</text>
<text x="374.82" y="129.1" textLength="9.67" lengthAdjust="spacingAndGlyphs">BGR</text>
<text x="331.07" y="151.5" textLength="10.74" lengthAdjust="spacingAndGlyphs">MNE</text>
<text x="374.82" y="151.5" textLength="10.9" lengthAdjust="spacingAndGlyphs">MKD</text>
<text x="243.57" y="151.5" textLength="9.59" lengthAdjust="spacingAndGlyphs">MLT</text>
<text x="331.07" y="173.9" textLength="8.73" lengthAdjust="spacingAndGlyphs">ALB</text>
<text x="352.95" y="173.9" textLength="9.59" lengthAdjust="spacingAndGlyphs">GRC</text>
<text x="440.45" y="106.7" textLength="10.46" lengthAdjust="spacingAndGlyphs">ARM</text>
<text x="462.32" y="106.7" textLength="10.01" lengthAdjust="spacingAndGlyphs">GEO</text>
<text x="484.2" y="106.7" textLength="9.44" lengthAdjust="spacingAndGlyphs">UZB</text>
<text x="506.07" y="106.7" textLength="9.28" lengthAdjust="spacingAndGlyphs">KGZ</text>
<text x="527.95" y="106.7" textLength="10.29" lengthAdjust="spacingAndGlyphs">CHN</text>
<text x="549.83" y="106.7" textLength="8.89" lengthAdjust="spacingAndGlyphs">PRK</text>
<text x="593.58" y="106.7" textLength="7.87" lengthAdjust="spacingAndGlyphs">JPN</text>
<text x="527.95" y="84.3" textLength="8.81" lengthAdjust="spacingAndGlyphs">KAZ</text>
<text x="549.83" y="84.3" textLength="11.58" lengthAdjust="spacingAndGlyphs">MNG</text>
<text x="396.7" y="129.1" textLength="9.21" lengthAdjust="spacingAndGlyphs">TUR</text>
<text x="418.57" y="129.1" textLength="8.38" lengthAdjust="spacingAndGlyphs">SYR</text>
<text x="440.45" y="129.1" textLength="8.13" lengthAdjust="spacingAndGlyphs">IRQ</text>
<text x="462.32" y="129.1" textLength="8.53" lengthAdjust="spacingAndGlyphs">AZE</text>
<text x="484.2" y="129.1" textLength="10.05" lengthAdjust="spacingAndGlyphs">TKM</text>
<text x="506.07" y="129.1" textLength="6.96" lengthAdjust="spacingAndGlyphs">TJK</text>
<text x="527.95" y="129.1" textLength="9.48" lengthAdjust="spacingAndGlyphs">BTN</text>
<text x="549.83" y="129.1" textLength="9.75" lengthAdjust="spacingAndGlyphs">KOR</text>
<text x="396.7" y="151.5" textLength="8.07" lengthAdjust="spacingAndGlyphs">JOR</text>
<text x="418.57" y="151.5" textLength="10.15" lengthAdjust="spacingAndGlyphs">KWT</text>
<text x="440.45" y="151.5" textLength="8.01" lengthAdjust="spacingAndGlyphs">IRN</text>
<text x="462.32" y="151.5" textLength="8.97" lengthAdjust="spacingAndGlyphs">PAK</text>
<text x="484.2" y="151.5" textLength="9.1" lengthAdjust="spacingAndGlyphs">AFG</text>
<text x="506.07" y="151.5" textLength="10.21" lengthAdjust="spacingAndGlyphs">BGD</text>
<text x="527.95" y="151.5" textLength="11.77" lengthAdjust="spacingAndGlyphs">MMR</text>
<text x="571.7" y="151.5" textLength="10.09" lengthAdjust="spacingAndGlyphs">HKG</text>
<text x="593.58" y="151.5" textLength="10.83" lengthAdjust="spacingAndGlyphs">TWN</text>
<text x="396.7" y="173.9" textLength="9.32" lengthAdjust="spacingAndGlyphs">LBN</text>
<text x="418.57" y="173.9" textLength="9.26" lengthAdjust="spacingAndGlyphs">SAU</text>
<text x="440.45" y="173.9" textLength="9.72" lengthAdjust="spacingAndGlyphs">BHR</text>
<text x="484.2" y="173.9" textLength="8.54" lengthAdjust="spacingAndGlyphs">IND</text>
<text x="506.07" y="173.9" textLength="9.09" lengthAdjust="spacingAndGlyphs">NPL</text>
<text x="549.83" y="173.9" textLength="9.36" lengthAdjust="spacingAndGlyphs">LAO</text>
<text x="571.7" y="173.9" textLength="10.93" lengthAdjust="spacingAndGlyphs">VNM</text>
<text x="352.95" y="196.3" textLength="8.7" lengthAdjust="spacingAndGlyphs">CYP</text>
<text x="374.82" y="196.3" textLength="8.28" lengthAdjust="spacingAndGlyphs">PSE</text>
<text x="396.7" y="196.3" textLength="7.01" lengthAdjust="spacingAndGlyphs">ISR</text>
<text x="418.57" y="196.3" textLength="9.53" lengthAdjust="spacingAndGlyphs">QAT</text>
<text x="440.45" y="196.3" textLength="8.76" lengthAdjust="spacingAndGlyphs">ARE</text>
<text x="527.95" y="196.3" textLength="9.33" lengthAdjust="spacingAndGlyphs">THA</text>
<text x="549.83" y="196.3" textLength="10.94" lengthAdjust="spacingAndGlyphs">KHM</text>
<text x="396.7" y="218.7" textLength="9.8" lengthAdjust="spacingAndGlyphs">YEM</text>
<text x="418.57" y="218.7" textLength="11.82" lengthAdjust="spacingAndGlyphs">OMN</text>
<text x="484.2" y="218.7" textLength="8.56" lengthAdjust="spacingAndGlyphs">LKA</text>
<text x="527.95" y="218.7" textLength="9.77" lengthAdjust="spacingAndGlyphs">MYS</text>
<text x="571.7" y="218.7" textLength="9.02" lengthAdjust="spacingAndGlyphs">PHL</text>
<text x="462.32" y="241.1" textLength="10.81" lengthAdjust="spacingAndGlyphs">MDV</text>
<text x="549.83" y="241.1" textLength="9.8" lengthAdjust="spacingAndGlyphs">BRN</text>
<text x="527.95" y="263.5" textLength="9.11" lengthAdjust="spacingAndGlyphs">SGP</text>
<text x="549.83" y="263.5" textLength="8.54" lengthAdjust="spacingAndGlyphs">IDN</text>
<text x="549.83" y="285.9" textLength="7.86" lengthAdjust="spacingAndGlyphs">TLS</text>
<text x="265.45" y="218.7" textLength="10.46" lengthAdjust="spacingAndGlyphs">MAR</text>
<text x="287.32" y="218.7" textLength="9.37" lengthAdjust="spacingAndGlyphs">DZA</text>
<text x="309.2" y="218.7" textLength="9.87" lengthAdjust="spacingAndGlyphs">TUN</text>
<text x="331.07" y="218.7" textLength="8.38" lengthAdjust="spacingAndGlyphs">LBY</text>
<text x="352.95" y="218.7" textLength="8.94" lengthAdjust="spacingAndGlyphs">EGY</text>
<text x="243.57" y="241.1" textLength="10.07" lengthAdjust="spacingAndGlyphs">MRT</text>
<text x="265.45" y="241.1" textLength="11.06" lengthAdjust="spacingAndGlyphs">GMB</text>
<text x="287.32" y="241.1" textLength="9.02" lengthAdjust="spacingAndGlyphs">SEN</text>
<text x="309.2" y="241.1" textLength="8.26" lengthAdjust="spacingAndGlyphs">MLI</text>
<text x="331.07" y="241.1" textLength="9.35" lengthAdjust="spacingAndGlyphs">NER</text>
<text x="352.95" y="241.1" textLength="9.85" lengthAdjust="spacingAndGlyphs">SDN</text>
<text x="243.57" y="263.5" textLength="10.33" lengthAdjust="spacingAndGlyphs">GNB</text>
<text x="265.45" y="263.5" textLength="7.88" lengthAdjust="spacingAndGlyphs">SLE</text>
<text x="287.32" y="263.5" textLength="8.71" lengthAdjust="spacingAndGlyphs">BFA</text>
<text x="309.2" y="263.5" textLength="9.28" lengthAdjust="spacingAndGlyphs">TCD</text>
<text x="331.07" y="263.5" textLength="8.86" lengthAdjust="spacingAndGlyphs">SSD</text>
<text x="352.95" y="263.5" textLength="7.05" lengthAdjust="spacingAndGlyphs">ERI</text>
<text x="374.82" y="263.5" textLength="6.18" lengthAdjust="spacingAndGlyphs">DJI</text>
<text x="243.57" y="285.9" textLength="8.54" lengthAdjust="spacingAndGlyphs">GIN</text>
<text x="265.45" y="285.9" textLength="8.66" lengthAdjust="spacingAndGlyphs">LBR</text>
<text x="287.32" y="285.9" textLength="10.18" lengthAdjust="spacingAndGlyphs">GHA</text>
<text x="309.2" y="285.9" textLength="9.99" lengthAdjust="spacingAndGlyphs">TGO</text>
<text x="331.07" y="285.9" textLength="9.5" lengthAdjust="spacingAndGlyphs">BEN</text>
<text x="352.95" y="285.9" textLength="8.63" lengthAdjust="spacingAndGlyphs">CAF</text>
<text x="374.82" y="285.9" textLength="8.96" lengthAdjust="spacingAndGlyphs">ETH</text>
<text x="396.7" y="285.9" textLength="10.83" lengthAdjust="spacingAndGlyphs">SOM</text>
<text x="221.7" y="308.3" textLength="8.87" lengthAdjust="spacingAndGlyphs">CPV</text>
<text x="265.45" y="308.3" textLength="7.3" lengthAdjust="spacingAndGlyphs">CIV</text>
<text x="287.32" y="308.3" textLength="10.26" lengthAdjust="spacingAndGlyphs">NGA</text>
<text x="309.2" y="308.3" textLength="10.45" lengthAdjust="spacingAndGlyphs">CMR</text>
<text x="331.07" y="308.3" textLength="10.37" lengthAdjust="spacingAndGlyphs">COD</text>
<text x="352.95" y="308.3" textLength="10.13" lengthAdjust="spacingAndGlyphs">UGA</text>
<text x="374.82" y="308.3" textLength="9.33" lengthAdjust="spacingAndGlyphs">KEN</text>
<text x="243.57" y="330.7" textLength="8.26" lengthAdjust="spacingAndGlyphs">STP</text>
<text x="287.32" y="330.7" textLength="10.96" lengthAdjust="spacingAndGlyphs">GNQ</text>
<text x="309.2" y="330.7" textLength="10.37" lengthAdjust="spacingAndGlyphs">COG</text>
<text x="331.07" y="330.7" textLength="8.03" lengthAdjust="spacingAndGlyphs">BDI</text>
<text x="352.95" y="330.7" textLength="10.56" lengthAdjust="spacingAndGlyphs">RWA</text>
<text x="374.82" y="330.7" textLength="8.52" lengthAdjust="spacingAndGlyphs">TZA</text>
<text x="287.32" y="353.1" textLength="10.38" lengthAdjust="spacingAndGlyphs">AGO</text>
<text x="309.2" y="353.1" textLength="9.74" lengthAdjust="spacingAndGlyphs">GAB</text>
<text x="331.07" y="353.1" textLength="10.23" lengthAdjust="spacingAndGlyphs">MWI</text>
<text x="352.95" y="353.1" textLength="10.93" lengthAdjust="spacingAndGlyphs">MOZ</text>
<text x="396.7" y="353.1" textLength="8.44" lengthAdjust="spacingAndGlyphs">SYC</text>
<text x="309.2" y="375.5" textLength="10.3" lengthAdjust="spacingAndGlyphs">ZMB</text>
<text x="331.07" y="375.5" textLength="10.7" lengthAdjust="spacingAndGlyphs">BWA</text>
<text x="352.95" y="375.5" textLength="9.96" lengthAdjust="spacingAndGlyphs">ZWE</text>
<text x="396.7" y="375.5" textLength="11.23" lengthAdjust="spacingAndGlyphs">COM</text>
<text x="331.07" y="397.9" textLength="11.11" lengthAdjust="spacingAndGlyphs">NAM</text>
<text x="352.95" y="397.9" textLength="9.92" lengthAdjust="spacingAndGlyphs">SWZ</text>
<text x="374.82" y="397.9" textLength="8.96" lengthAdjust="spacingAndGlyphs">LSO</text>
<text x="418.57" y="397.9" textLength="11.45" lengthAdjust="spacingAndGlyphs">MDG</text>
<text x="571.7" y="308.3" textLength="10.48" lengthAdjust="spacingAndGlyphs">MHL</text>
<text x="549.83" y="330.7" textLength="9.93" lengthAdjust="spacingAndGlyphs">PLW</text>
<text x="571.7" y="330.7" textLength="9.55" lengthAdjust="spacingAndGlyphs">FSM</text>
<text x="549.83" y="353.1" textLength="10.11" lengthAdjust="spacingAndGlyphs">PNG</text>
<text x="571.7" y="353.1" textLength="10.19" lengthAdjust="spacingAndGlyphs">NRU</text>
<text x="593.58" y="353.1" textLength="7.33" lengthAdjust="spacingAndGlyphs">KIR</text>
<text x="571.7" y="375.5" textLength="8.32" lengthAdjust="spacingAndGlyphs">SLB</text>
<text x="593.58" y="375.5" textLength="9.1" lengthAdjust="spacingAndGlyphs">TUV</text>
<text x="615.45" y="375.5" textLength="11.54" lengthAdjust="spacingAndGlyphs">WSM</text>
<text x="527.95" y="397.9" textLength="9.26" lengthAdjust="spacingAndGlyphs">AUS</text>
<text x="571.7" y="397.9" textLength="9.1" lengthAdjust="spacingAndGlyphs">VUT</text>
<text x="593.58" y="397.9" textLength="5.15" lengthAdjust="spacingAndGlyphs">FJI</text>
<text x="615.45" y="397.9" textLength="10.12" lengthAdjust="spacingAndGlyphs">TON</text>
</g>
<g class="circ">
<circle cx="46.7" cy="113" r="9.4" fill="#de5f00" stroke="#3f1a03"/>
<circle cx="46.7" cy="135.4" r="10.4" fill="#de5f00" stroke="#3f1a03"/>
<circle cx="46.7" cy="157.8" r="4.4" fill="#de5f00" stroke="#3f1a03"/>
<circle cx="68.58" cy="157.8" r="2.9" fill="#de5f00" stroke="#3f1a03"/>
<circle cx="112.33" cy="135.4" r="8.2" fill="#de5f00" stroke="#3f1a03"/>
<circle cx="112.33" cy="157.8" r="4.2" fill="#de5f00" stroke="#3f1a03"/>
<circle cx="46.7" cy="180.2" r="2.6" fill="#de5f00" stroke="#3f1a03"/>
<circle cx="112.33" cy="180.2" r="4.8" fill="#de5f00" stroke="#3f1a03"/>
<circle cx="134.2" cy="180.2" r="0.85" fill="#de5f00" stroke="#3f1a03"/>
<circle cx="156.07" cy="180.2" r="2.5" fill="#de5f00" stroke="#3f1a03"/>
<circle cx="177.95" cy="180.2" r="2.7" fill="#de5f00" stroke="#3f1a03"/>
<circle cx="46.7" cy="202.6" r="2.2" fill="#de5f00" stroke="#3f1a03"/>
<circle cx="68.58" cy="202.6" r="2.2" fill="#de5f00" stroke="#3f1a03"/>
<circle cx="156.07" cy="202.6" r="2.7" fill="#de5f00" stroke="#3f1a03"/>
<circle cx="177.95" cy="202.6" r="2" fill="#de5f00" stroke="#3f1a03"/>
<circle cx="68.58" cy="225" r="2.2" fill="#de5f00" stroke="#3f1a03"/>
<circle cx="177.95" cy="225" r="1.25" fill="#de5f00" stroke="#3f1a03"/>
<circle cx="199.82" cy="225" r="4.1" fill="#de5f00" stroke="#3f1a03"/>
<circle cx="90.45" cy="247.4" r="2.7" fill="#de5f00" stroke="#3f1a03"/>
<circle cx="177.95" cy="247.4" r="1.45" fill="#de5f00" stroke="#3f1a03"/>
<circle cx="112.33" cy="269.8" r="3.1" fill="#de5f00" stroke="#3f1a03"/>
<circle cx="177.95" cy="269.8" r="1.55" fill="#de5f00" stroke="#3f1a03"/>
<circle cx="134.2" cy="292.2" r="3.2" fill="#de5f00" stroke="#3f1a03"/>
<circle cx="156.07" cy="292.2" r="5.5" fill="#de5f00" stroke="#3f1a03"/>
<circle cx="177.95" cy="292.2" r="7.6" fill="#de5f00" stroke="#3f1a03"/>
<circle cx="134.2" cy="314.6" r="2.8" fill="#de5f00" stroke="#3f1a03"/>
<circle cx="156.07" cy="314.6" r="3.3" fill="#de5f00" stroke="#3f1a03"/>
<circle cx="134.2" cy="337" r="2.7" fill="#de5f00" stroke="#3f1a03"/>
<circle cx="156.07" cy="337" r="2.6" fill="#de5f00" stroke="#3f1a03"/>
<circle cx="177.95" cy="337" r="5.5" fill="#de5f00" stroke="#3f1a03"/>
<circle cx="199.82" cy="337" r="3" fill="#de5f00" stroke="#3f1a03"/>
<circle cx="156.07" cy="359.4" r="1.9" fill="#de5f00" stroke="#3f1a03"/>
<circle cx="177.95" cy="359.4" r="3.1" fill="#de5f00" stroke="#3f1a03"/>
<circle cx="156.07" cy="381.8" r="3.2" fill="#de5f00" stroke="#3f1a03"/>
<circle cx="156.07" cy="404.2" r="4.7" fill="#de5f00" stroke="#3f1a03"/>
<circle cx="221.7" cy="23.4" r="6.55" fill="#e7308e" stroke="#3a0822"/>
<circle cx="309.2" cy="23.4" r="6.45" fill="#e7308e" stroke="#3a0822"/>
<circle cx="331.07" cy="23.4" r="8.05" fill="#e7308e" stroke="#3a0822"/>
<circle cx="352.95" cy="23.4" r="9.55" fill="#e7308e" stroke="#3a0822"/>
<circle cx="309.2" cy="45.8" r="9.15" fill="#e7308e" stroke="#3a0822"/>
<circle cx="352.95" cy="45.8" r="10.05" fill="#e7308e" stroke="#3a0822"/>
<circle cx="374.82" cy="45.8" r="6.55" fill="#e7308e" stroke="#3a0822"/>
<circle cx="221.7" cy="68.2" r="7.05" fill="#e7308e" stroke="#3a0822"/>
<circle cx="243.57" cy="68.2" r="8.15" fill="#e7308e" stroke="#3a0822"/>
<circle cx="287.32" cy="68.2" r="9.25" fill="#e7308e" stroke="#3a0822"/>
<circle cx="309.2" cy="68.2" r="9.45" fill="#e7308e" stroke="#3a0822"/>
<circle cx="331.07" cy="68.2" r="7.75" fill="#e7308e" stroke="#3a0822"/>
<circle cx="352.95" cy="68.2" r="7.55" fill="#e7308e" stroke="#3a0822"/>
<circle cx="374.82" cy="68.2" r="5.55" fill="#e7308e" stroke="#3a0822"/>
<circle cx="396.7" cy="68.2" r="8.45" fill="#e7308e" stroke="#3a0822"/>
<circle cx="265.45" cy="90.6" r="7.65" fill="#e7308e" stroke="#3a0822"/>
<circle cx="287.32" cy="90.6" r="10.15" fill="#e7308e" stroke="#3a0822"/>
<circle cx="309.2" cy="90.6" r="9.35" fill="#e7308e" stroke="#3a0822"/>
<circle cx="331.07" cy="90.6" r="9.6" fill="#e7308e" stroke="#3a0822"/>
<circle cx="352.95" cy="90.6" r="9.6" fill="#e7308e" stroke="#3a0822"/>
<circle cx="374.82" cy="90.6" r="6.75" fill="#e7308e" stroke="#3a0822"/>
<circle cx="396.7" cy="90.6" r="5.35" fill="#e7308e" stroke="#3a0822"/>
<circle cx="221.7" cy="113" r="4.15" fill="#e7308e" stroke="#3a0822"/>
<circle cx="243.57" cy="113" r="5.95" fill="#e7308e" stroke="#3a0822"/>
<circle cx="265.45" cy="113" r="5.85" fill="#e7308e" stroke="#3a0822"/>
<circle cx="287.32" cy="113" r="13" fill="#e7308e" stroke="#3a0822"/>
<circle cx="309.2" cy="113" r="5.75" fill="#e7308e" stroke="#3a0822"/>
<circle cx="331.07" cy="113" r="5.85" fill="#e7308e" stroke="#3a0822"/>
<circle cx="352.95" cy="113" r="7.75" fill="#e7308e" stroke="#3a0822"/>
<circle cx="374.82" cy="113" r="6.95" fill="#e7308e" stroke="#3a0822"/>
<circle cx="396.7" cy="113" r="6.05" fill="#e7308e" stroke="#3a0822"/>
<circle cx="287.32" cy="135.4" r="6.75" fill="#e7308e" stroke="#3a0822"/>
<circle cx="309.2" cy="135.4" r="4.35" fill="#e7308e" stroke="#3a0822"/>
<circle cx="331.07" cy="135.4" r="4.75" fill="#e7308e" stroke="#3a0822"/>
<circle cx="352.95" cy="135.4" r="5.65" fill="#e7308e" stroke="#3a0822"/>
<circle cx="374.82" cy="135.4" r="5.75" fill="#e7308e" stroke="#3a0822"/>
<circle cx="331.07" cy="157.8" r="4.15" fill="#e7308e" stroke="#3a0822"/>
<circle cx="374.82" cy="157.8" r="6.15" fill="#e7308e" stroke="#3a0822"/>
<circle cx="243.57" cy="157.8" r="4.95" fill="#e7308e" stroke="#3a0822"/>
<circle cx="331.07" cy="180.2" r="1.95" fill="#e7308e" stroke="#3a0822"/>
<circle cx="352.95" cy="180.2" r="6.15" fill="#e7308e" stroke="#3a0822"/>
<circle cx="440.45" cy="113" r="2.9" fill="#7973ba" stroke="#201e45"/>
<circle cx="462.32" cy="113" r="3" fill="#7973ba" stroke="#201e45"/>
<circle cx="484.2" cy="113" r="5.6" fill="#7973ba" stroke="#201e45"/>
<circle cx="506.07" cy="113" r="5.1" fill="#7973ba" stroke="#201e45"/>
<circle cx="527.95" cy="113" r="2.6" fill="#7973ba" stroke="#201e45"/>
<circle cx="549.83" cy="113" r="5.6" fill="#7973ba" stroke="#201e45"/>
<circle cx="593.58" cy="113" r="7.2" fill="#7973ba" stroke="#201e45"/>
<circle cx="527.95" cy="90.6" r="9.35" fill="#7973ba" stroke="#201e45"/>
<circle cx="549.83" cy="90.6" r="3.7" fill="#7973ba" stroke="#201e45"/>
<circle cx="396.7" cy="135.4" r="3.5" fill="#7973ba" stroke="#201e45"/>
<circle cx="418.57" cy="135.4" r="3.7" fill="#7973ba" stroke="#201e45"/>
<circle cx="440.45" cy="135.4" r="3.25" fill="#7973ba" stroke="#201e45"/>
<circle cx="462.32" cy="135.4" r="4.2" fill="#7973ba" stroke="#201e45"/>
<circle cx="484.2" cy="135.4" r="8.4" fill="#7973ba" stroke="#201e45"/>
<circle cx="506.07" cy="135.4" r="2.3" fill="#7973ba" stroke="#201e45"/>
<circle cx="527.95" cy="135.4" r="0.6" fill="#7973ba" stroke="#201e45"/>
<circle cx="549.83" cy="135.4" r="4.8" fill="#7973ba" stroke="#201e45"/>
<circle cx="396.7" cy="157.8" r="4.3" fill="#7973ba" stroke="#201e45"/>
<circle cx="418.57" cy="157.8" r="10.1" fill="#7973ba" stroke="#201e45"/>
<circle cx="440.45" cy="157.8" r="4.1" fill="#7973ba" stroke="#201e45"/>
<circle cx="462.32" cy="157.8" r="1.35" fill="#7973ba" stroke="#201e45"/>
<circle cx="484.2" cy="157.8" r="0.6" fill="#7973ba" stroke="#201e45"/>
<circle cx="506.07" cy="157.8" r="0.6" fill="#7973ba" stroke="#201e45"/>
<circle cx="527.95" cy="157.8" r="0.65" fill="#7973ba" stroke="#201e45"/>
<circle cx="571.7" cy="157.8" r="7" fill="#7973ba" stroke="#201e45"/>
<circle cx="593.58" cy="157.8" r="5.8" fill="#7973ba" stroke="#201e45"/>
<circle cx="396.7" cy="180.2" r="3.2" fill="#7973ba" stroke="#201e45"/>
<circle cx="418.57" cy="180.2" r="7.2" fill="#7973ba" stroke="#201e45"/>
<circle cx="440.45" cy="180.2" r="7.9" fill="#7973ba" stroke="#201e45"/>
<circle cx="484.2" cy="180.2" r="1.55" fill="#7973ba" stroke="#201e45"/>
<circle cx="506.07" cy="180.2" r="0.6" fill="#7973ba" stroke="#201e45"/>
<circle cx="549.83" cy="180.2" r="0.95" fill="#7973ba" stroke="#201e45"/>
<circle cx="571.7" cy="180.2" r="1.55" fill="#7973ba" stroke="#201e45"/>
<circle cx="352.95" cy="202.6" r="6.1" fill="#7973ba" stroke="#201e45"/>
<circle cx="374.82" cy="202.6" r="0.95" fill="#7973ba" stroke="#201e45"/>
<circle cx="396.7" cy="202.6" r="6.5" fill="#7973ba" stroke="#201e45"/>
<circle cx="418.57" cy="202.6" r="13" fill="#7973ba" stroke="#201e45"/>
<circle cx="440.45" cy="202.6" r="9" fill="#7973ba" stroke="#201e45"/>
<circle cx="527.95" cy="202.6" r="2.3" fill="#7973ba" stroke="#201e45"/>
<circle cx="549.83" cy="202.6" r="0.65" fill="#7973ba" stroke="#201e45"/>
<circle cx="396.7" cy="225" r="1.85" fill="#7973ba" stroke="#201e45"/>
<circle cx="418.57" cy="225" r="5.6" fill="#7973ba" stroke="#201e45"/>
<circle cx="484.2" cy="225" r="1.55" fill="#7973ba" stroke="#201e45"/>
<circle cx="527.95" cy="225" r="3.5" fill="#7973ba" stroke="#201e45"/>
<circle cx="571.7" cy="225" r="2.1" fill="#7973ba" stroke="#201e45"/>
<circle cx="462.32" cy="247.4" r="1.25" fill="#7973ba" stroke="#201e45"/>
<circle cx="549.83" cy="247.4" r="12.75" fill="#7973ba" stroke="#201e45"/>
<circle cx="527.95" cy="269.8" r="10.3" fill="#7973ba" stroke="#201e45"/>
<circle cx="549.83" cy="269.8" r="1.8" fill="#7973ba" stroke="#201e45"/>
<circle cx="549.83" cy="292.2" r="0.6" fill="#7973ba" stroke="#201e45"/>
<circle cx="265.45" cy="225" r="2.2" fill="#31a381" stroke="#0a2a1e"/>
<circle cx="287.32" cy="225" r="3.6" fill="#31a381" stroke="#0a2a1e"/>
<circle cx="309.2" cy="225" r="3" fill="#31a381" stroke="#0a2a1e"/>
<circle cx="331.07" cy="225" r="6.9" fill="#31a381" stroke="#0a2a1e"/>
<circle cx="352.95" cy="225" r="2.3" fill="#31a381" stroke="#0a2a1e"/>
<circle cx="243.57" cy="247.4" r="1.45" fill="#31a381" stroke="#0a2a1e"/>
<circle cx="265.45" cy="247.4" r="1.35" fill="#31a381" stroke="#0a2a1e"/>
<circle cx="287.32" cy="247.4" r="1.7" fill="#31a381" stroke="#0a2a1e"/>
<circle cx="309.2" cy="247.4" r="0.6" fill="#31a381" stroke="#0a2a1e"/>
<circle cx="331.07" cy="247.4" r="0.75" fill="#31a381" stroke="#0a2a1e"/>
<circle cx="352.95" cy="247.4" r="1.35" fill="#31a381" stroke="#0a2a1e"/>
<circle cx="243.57" cy="269.8" r="1.15" fill="#31a381" stroke="#0a2a1e"/>
<circle cx="265.45" cy="269.8" r="1.15" fill="#31a381" stroke="#0a2a1e"/>
<circle cx="287.32" cy="269.8" r="0.6" fill="#31a381" stroke="#0a2a1e"/>
<circle cx="309.2" cy="269.8" r="0.6" fill="#31a381" stroke="#0a2a1e"/>
<circle cx="331.07" cy="269.8" r="0.6" fill="#31a381" stroke="#0a2a1e"/>
<circle cx="352.95" cy="269.8" r="1.25" fill="#31a381" stroke="#0a2a1e"/>
<circle cx="374.82" cy="269.8" r="2" fill="#31a381" stroke="#0a2a1e"/>
<circle cx="243.57" cy="292.2" r="1.15" fill="#31a381" stroke="#0a2a1e"/>
<circle cx="265.45" cy="292.2" r="2.2" fill="#31a381" stroke="#0a2a1e"/>
<circle cx="287.32" cy="292.2" r="1.35" fill="#31a381" stroke="#0a2a1e"/>
<circle cx="309.2" cy="292.2" r="1.15" fill="#31a381" stroke="#0a2a1e"/>
<circle cx="331.07" cy="292.2" r="1.15" fill="#31a381" stroke="#0a2a1e"/>
<circle cx="352.95" cy="292.2" r="0.6" fill="#31a381" stroke="#0a2a1e"/>
<circle cx="374.82" cy="292.2" r="0.6" fill="#31a381" stroke="#0a2a1e"/>
<circle cx="396.7" cy="292.2" r="0.6" fill="#31a381" stroke="#0a2a1e"/>
<circle cx="221.7" cy="314.6" r="0.65" fill="#31a381" stroke="#0a2a1e"/>
<circle cx="265.45" cy="314.6" r="1.45" fill="#31a381" stroke="#0a2a1e"/>
<circle cx="287.32" cy="314.6" r="1.9" fill="#31a381" stroke="#0a2a1e"/>
<circle cx="309.2" cy="314.6" r="0.85" fill="#31a381" stroke="#0a2a1e"/>
<circle cx="331.07" cy="314.6" r="0.75" fill="#31a381" stroke="#0a2a1e"/>
<circle cx="352.95" cy="314.6" r="0.6" fill="#31a381" stroke="#0a2a1e"/>
<circle cx="374.82" cy="314.6" r="1.55" fill="#31a381" stroke="#0a2a1e"/>
<circle cx="243.57" cy="337" r="1.55" fill="#31a381" stroke="#0a2a1e"/>
<circle cx="287.32" cy="337" r="1.35" fill="#31a381" stroke="#0a2a1e"/>
<circle cx="309.2" cy="337" r="1.35" fill="#31a381" stroke="#0a2a1e"/>
<circle cx="331.07" cy="337" r="0.6" fill="#31a381" stroke="#0a2a1e"/>
<circle cx="352.95" cy="337" r="0.6" fill="#31a381" stroke="#0a2a1e"/>
<circle cx="374.82" cy="337" r="0.75" fill="#31a381" stroke="#0a2a1e"/>
<circle cx="287.32" cy="359.4" r="1.7" fill="#31a381" stroke="#0a2a1e"/>
<circle cx="309.2" cy="359.4" r="6.7" fill="#31a381" stroke="#0a2a1e"/>
<circle cx="331.07" cy="359.4" r="1.35" fill="#31a381" stroke="#0a2a1e"/>
<circle cx="352.95" cy="359.4" r="2.6" fill="#31a381" stroke="#0a2a1e"/>
<circle cx="396.7" cy="359.4" r="2.9" fill="#31a381" stroke="#0a2a1e"/>
<circle cx="309.2" cy="381.8" r="1.9" fill="#31a381" stroke="#0a2a1e"/>
<circle cx="331.07" cy="381.8" r="3.3" fill="#31a381" stroke="#0a2a1e"/>
<circle cx="352.95" cy="381.8" r="2.9" fill="#31a381" stroke="#0a2a1e"/>
<circle cx="396.7" cy="381.8" r="0.75" fill="#31a381" stroke="#0a2a1e"/>
<circle cx="331.07" cy="404.2" r="0.75" fill="#31a381" stroke="#0a2a1e"/>
<circle cx="352.95" cy="404.2" r="1.7" fill="#31a381" stroke="#0a2a1e"/>
<circle cx="374.82" cy="404.2" r="0.75" fill="#31a381" stroke="#0a2a1e"/>
<circle cx="418.57" cy="404.2" r="0.75" fill="#31a381" stroke="#0a2a1e"/>
<circle cx="571.7" cy="314.6" r="2.3" fill="#6eac30" stroke="#22330c"/>
<circle cx="549.83" cy="337" r="7.3" fill="#6eac30" stroke="#22330c"/>
<circle cx="571.7" cy="337" r="2" fill="#6eac30" stroke="#22330c"/>
<circle cx="549.83" cy="359.4" r="1.45" fill="#6eac30" stroke="#22330c"/>
<circle cx="571.7" cy="359.4" r="9.15" fill="#6eac30" stroke="#22330c"/>
<circle cx="593.58" cy="359.4" r="1.55" fill="#6eac30" stroke="#22330c"/>
<circle cx="571.7" cy="381.8" r="1.45" fill="#6eac30" stroke="#22330c"/>
<circle cx="593.58" cy="381.8" r="1.7" fill="#6eac30" stroke="#22330c"/>
<circle cx="615.45" cy="381.8" r="1.7" fill="#6eac30" stroke="#22330c"/>
<circle cx="527.95" cy="404.2" r="8" fill="#6eac30" stroke="#22330c"/>
<circle cx="571.7" cy="404.2" r="1.7" fill="#6eac30" stroke="#22330c"/>
<circle cx="593.58" cy="404.2" r="2.7" fill="#6eac30" stroke="#22330c"/>
<circle cx="615.45" cy="404.2" r="1.7" fill="#6eac30" stroke="#22330c"/>
</g>
</g>
</svg>
</body>
</html>
